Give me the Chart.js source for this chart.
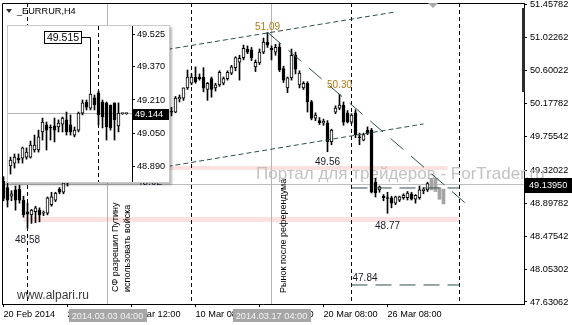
<!DOCTYPE html>
<html>
<head>
<meta charset="utf-8">
<script src="https://cdn.jsdelivr.net/npm/chart.js@4/dist/chart.umd.min.js"></script>
<style>
  html, body { margin: 0; padding: 0; background: #fff; }
  #wrap { position: relative; width: 572px; height: 325px; overflow: hidden; }
  #main { position: absolute; left: 0; top: 0; width: 572px; height: 325px; }
  #insetBox { position: absolute; left: 7px; top: 25px; width: 163px; height: 158px; box-sizing: border-box;
    border: 1px solid #c8c8c8; background: #fff; box-shadow: 2px 2px 2px rgba(0,0,0,0.28); }
  #inset { position: absolute; left: 0; top: 0; width: 161px; height: 156px; }
</style>
</head>
<body>
<div id="wrap">
  <canvas id="main" width="572" height="325"></canvas>
  <div id="insetBox"><canvas id="inset" width="161" height="156"></canvas></div>
</div>
<script>
const FONT = '"Liberation Sans", Arial, sans-serif';
Chart.defaults.font.family = FONT;

// ---- main H4 chart data ----
const priceTicks = [51.45782, 51.02262, 50.60022, 50.17782, 49.75542, 49.32022, 48.89782, 48.47542, 48.05302, 47.63062];
const tickBars = [0, 16, 32, 48, 64, 80, 96];
const tickLabels = ['20 Feb 2014', '26 Feb 08:00', '4 Mar 12:00', '10 Mar 08:00', '14 Mar 08:00', '20 Mar 08:00', '26 Mar 08:00'];

const opens = [
  49.18, 49.10, 48.99, 49.07, 49.08, 48.94, 48.79, 48.75, 48.79, 48.81, 48.77, 48.77, 48.88, 48.94, 49.08, 49.04,
  49.16, 49.22, 49.28, 49.25, 49.35, 49.41, 49.38, 49.49, 49.46, 49.55, 49.58, 50.30, 50.18, 50.05, 50.10, 50.16,
  50.00, 49.94, 50.02, 50.08, 49.98, 49.92, 49.96, 50.03, 50.00, 50.05, 50.08, 50.07, 50.24, 50.25, 50.38, 50.44,
  50.52, 50.52, 50.52, 50.36, 50.50, 50.38, 50.42, 50.44, 50.50, 50.57, 50.64, 50.71, 50.77, 50.88, 50.87, 50.65,
  50.70, 50.84, 50.97, 50.89, 50.84, 50.90, 50.63, 50.38, 50.51, 50.80, 50.42, 50.38, 50.44, 50.20, 49.99, 49.96,
  49.93, 49.93, 49.69, 50.07, 50.12, 50.16, 50.06, 49.94, 50.06, 49.75, 49.71, 49.84, 49.84, 49.17, 49.07, 48.99,
  48.97, 48.97, 48.90, 48.94, 48.97, 48.97, 49.02, 48.95, 48.97, 49.06, 49.07
];
const highs = [
  49.24, 49.17, 49.06, 49.12, 49.13, 48.99, 48.90, 48.82, 48.86, 48.84, 48.80, 48.98, 49.04, 49.04, 49.10, 49.20,
  49.26, 49.31, 49.35, 49.38, 49.44, 49.47, 49.52, 49.56, 49.58, 49.62, 50.45, 50.52, 50.26, 50.14, 50.22, 50.20,
  50.08, 50.06, 50.12, 50.14, 50.04, 50.00, 50.06, 50.10, 50.08, 50.12, 50.13, 50.27, 50.29, 50.38, 50.61, 50.56,
  50.65, 50.56, 50.64, 50.45, 50.52, 50.44, 50.60, 50.52, 50.60, 50.67, 50.78, 50.80, 50.93, 50.92, 50.90, 50.74,
  50.88, 51.02, 51.09, 50.92, 50.94, 50.95, 50.66, 50.52, 50.88, 50.84, 50.60, 50.46, 50.46, 50.22, 50.06, 50.00,
  49.98, 49.96, 49.85, 50.15, 50.30, 50.20, 50.09, 50.05, 50.10, 49.80, 49.80, 49.88, 49.86, 49.22, 49.12, 49.01,
  49.04, 48.99, 48.99, 48.99, 49.02, 49.05, 49.04, 49.01, 49.12, 49.10, 49.17
];
const lows = [
  48.93, 48.85, 48.93, 48.81, 48.90, 48.72, 48.58, 48.64, 48.65, 48.66, 48.74, 48.75, 48.86, 48.92, 49.02, 49.02,
  49.12, 49.18, 49.22, 49.23, 49.30, 49.34, 49.36, 49.42, 49.44, 49.50, 49.56, 50.10, 49.98, 49.92, 50.02, 49.96,
  49.88, 49.90, 49.97, 49.95, 49.86, 49.84, 49.91, 49.97, 49.93, 50.00, 50.02, 50.06, 50.20, 50.22, 50.36, 50.42,
  50.44, 50.48, 50.33, 50.22, 50.26, 50.34, 50.40, 50.42, 50.48, 50.55, 50.60, 50.48, 50.74, 50.82, 50.73, 50.59,
  50.68, 50.82, 50.90, 50.74, 50.80, 50.59, 50.45, 50.32, 50.48, 50.56, 50.38, 50.36, 50.07, 49.97, 49.96, 49.91,
  49.90, 49.56, 49.65, 50.05, 50.10, 49.90, 49.93, 49.92, 49.74, 49.65, 49.70, 49.78, 49.03, 48.98, 49.04, 48.93,
  48.77, 48.84, 48.88, 48.92, 48.95, 48.94, 48.94, 48.90, 48.95, 49.02, 49.05
];
const closes = [
  48.96, 48.94, 49.02, 48.94, 48.94, 48.75, 48.76, 48.81, 48.84, 48.75, 48.78, 48.97, 48.98, 49.03, 49.04, 49.16,
  49.22, 49.28, 49.25, 49.35, 49.41, 49.38, 49.49, 49.46, 49.55, 49.58, 50.30, 50.18, 50.05, 50.10, 50.16, 50.00,
  49.94, 50.02, 50.08, 49.98, 49.92, 49.96, 50.03, 50.00, 50.05, 50.08, 50.07, 50.25, 50.26, 50.38, 50.52, 50.52,
  50.46, 50.50, 50.38, 50.44, 50.36, 50.42, 50.58, 50.50, 50.58, 50.65, 50.77, 50.76, 50.89, 50.84, 50.77, 50.71,
  50.84, 50.97, 50.93, 50.87, 50.90, 50.61, 50.48, 50.51, 50.80, 50.62, 50.57, 50.44, 50.20, 49.99, 50.03, 49.93,
  49.95, 49.69, 49.84, 50.12, 50.16, 49.94, 49.94, 50.03, 49.78, 49.74, 49.78, 49.80, 49.04, 49.03, 49.11, 48.97,
  48.96, 48.90, 48.98, 48.98, 49.00, 49.03, 48.95, 49.00, 49.07, 49.08, 49.15
];
// grey bars to the right of the last candle
const ghostBars = [107, 108, 109, 110];
const ghostOpen = [49.22, 49.22, 49.10, 49.08];
const ghostClose = [49.07, 49.05, 48.95, 48.89];

const lastPrice = 49.1395;
const separators = [6, 47, 87, 114];
const eventBars = [26, 67];
const eventStamps = ['2014.03.03 04:00', '2014.03.17 04:00'];
const eventNotes = [['СФ разрешил Путину', 'использовать войска'], ['Рынок после референдума']];

const bandFrom = [30, 5];
const bandTo = [111, 114];
const bandHigh = [49.377, 48.722];
const bandLow = [49.326, 48.658];

const upperChannel = [{x: 41, y: 50.875}, {x: 98, y: 51.356}];
const lowerChannel = [{x: 41, y: 49.372}, {x: 105, y: 49.917}];
const fallLine = [{x: 66.125, y: 51.09}, {x: 116.625, y: 48.85}];
const targetFrom = 87, targetTo = 114;
const targetLevels = [49.095, 47.849];

const markText = ['51.09', '50.30', '49.56', '48.77', '48.58', '47.84', '48.92'];
const markBar = [66, 84, 81, 96, 6, 87, 36.5];
const markPrice = [51.09, 50.30, 49.56, 48.77, 48.58, 47.84, 48.92];
const rightBlock = [51.406, 50.328];

// ---- inset chart data ----
const insetTicks = [49.525, 49.370, 49.210, 49.050, 48.890];
const insetOpen = [48.892, 48.906, 48.930, 48.930, 48.935, 48.935, 48.969, 48.969, 49.056, 49.090, 49.080, 49.085, 49.080, 49.094, 49.114,
  49.090, 49.041, 49.065, 49.147, 49.200, 49.171, 49.220, 49.244, 49.200, 49.196, 49.186, 49.196, 49.085, 49.144, 49.144];
const insetHigh = [48.935, 48.950, 48.950, 48.983, 48.979, 49.012, 49.041, 49.065, 49.123, 49.104, 49.090, 49.123, 49.114, 49.128, 49.152,
  49.138, 49.080, 49.152, 49.210, 49.210, 49.239, 49.234, 49.253, 49.210, 49.200, 49.186, 49.196, 49.196, 49.147, 49.147];
const insetLow = [48.853, 48.882, 48.906, 48.906, 48.925, 48.930, 48.959, 48.959, 49.017, 48.969, 49.017, 49.008, 49.056, 49.056, 49.041,
  49.041, 49.032, 49.056, 49.138, 49.162, 49.162, 49.162, 49.090, 49.075, 49.017, 49.065, 49.017, 49.056, 49.141, 49.141];
const insetClose = [48.921, 48.935, 48.921, 48.979, 48.959, 48.993, 48.993, 49.032, 49.104, 49.065, 49.075, 49.065, 49.099, 49.123, 49.056,
  49.056, 49.065, 49.147, 49.196, 49.176, 49.239, 49.186, 49.138, 49.128, 49.080, 49.075, 49.114, 49.147, 49.144, 49.144];
const insetLast = 49.144;
const insetCallout = '49.515';
const insetCalloutBar = 20;
const insetSeparator = 22;

function candleSets(o, h, l, c) {
  const idx = o.map((_, i) => i);
  return [
    {
      type: 'bar', data: idx.map(i => ({x: i, y: [l[i], h[i]]})),
      backgroundColor: '#000', borderWidth: 0, barThickness: 1, grouped: false, order: 3
    },
    {
      type: 'bar', data: idx.map(i => ({x: i, y: [o[i], c[i]]})),
      backgroundColor: idx.map(i => c[i] >= o[i] ? '#fff' : '#000'),
      borderColor: '#000', borderWidth: 1, borderSkipped: false, minBarLength: 1,
      barThickness: 3, grouped: false, order: 2
    }
  ];
}

function lineSet(points, dash) {
  return {
    type: 'line', data: points, borderColor: '#2f4f4f', borderWidth: 1, borderDash: dash,
    pointRadius: 0, fill: false, tension: 0, order: 0
  };
}

const snap = v => Math.floor(v) + 0.5;

const mainDecor = {
  id: 'mainDecor',
  beforeDatasetsDraw(chart) {
    const {ctx, chartArea: a, scales: {x, y}} = chart;
    ctx.save();
    ctx.beginPath();
    ctx.rect(a.left, a.top, a.right - a.left, a.bottom - a.top);
    ctx.clip();

    ctx.fillStyle = '#fde1e1';
    bandFrom.forEach((b, k) => {
      const x0 = x.getPixelForValue(b), x1 = x.getPixelForValue(bandTo[k]);
      const y0 = y.getPixelForValue(bandHigh[k]), y1 = y.getPixelForValue(bandLow[k]);
      ctx.fillRect(x0, y0, x1 - x0, y1 - y0);
    });

    ctx.lineWidth = 1;
    ctx.strokeStyle = '#bdbdbd';
    const ly = snap(y.getPixelForValue(lastPrice));
    ctx.beginPath(); ctx.moveTo(a.left, ly); ctx.lineTo(a.right, ly); ctx.stroke();

    ctx.strokeStyle = '#b4b4b4';
    eventBars.forEach(b => {
      const px = snap(x.getPixelForValue(b));
      ctx.beginPath(); ctx.moveTo(px, a.top); ctx.lineTo(px, a.bottom); ctx.stroke();
    });

    ctx.strokeStyle = '#000';
    ctx.setLineDash([4, 3]);
    separators.forEach(b => {
      const px = snap(x.getPixelForValue(b));
      ctx.beginPath(); ctx.moveTo(px, a.top); ctx.lineTo(px, a.bottom); ctx.stroke();
    });
    ctx.restore();

    // watermark runs over the price axis as well
    ctx.save();
    ctx.font = '17px ' + FONT;
    ctx.fillStyle = '#c2c2c2';
    ctx.textAlign = 'left';
    ctx.textBaseline = 'alphabetic';
    ctx.fillText('Портал для трейдеров - ForTrader.ru', 256, 179);
    ctx.restore();
  },
  afterDraw(chart) {
    const {ctx, chartArea: a, scales: {x, y}} = chart;
    ctx.save();
    ctx.strokeStyle = '#000';
    ctx.lineWidth = 1;
    ctx.beginPath();
    ctx.moveTo(a.left + 0.5, a.bottom); ctx.lineTo(a.left + 0.5, a.top + 0.5); ctx.lineTo(a.right, a.top + 0.5);
    ctx.stroke();

    // title
    ctx.fillStyle = '#333';
    ctx.beginPath(); ctx.moveTo(6, 9); ctx.lineTo(12, 9); ctx.lineTo(9, 13); ctx.closePath(); ctx.fill();
    ctx.fillStyle = '#000';
    ctx.font = '9.2px ' + FONT;
    ctx.textBaseline = 'alphabetic';
    ctx.textAlign = 'left';
    ctx.fillText('_EURRUR,H4', 17, 14);

    // price marks
    const markDy = [-5, -9, 10, 13, 12, -7, -19];
    ctx.font = '10px ' + FONT;
    ctx.textBaseline = 'middle';
    markText.forEach((t, k) => {
      ctx.fillStyle = k < 2 ? '#b07a14' : '#1a1a2a';
      ctx.textAlign = k === 5 ? 'left' : 'center';
      const px = x.getPixelForValue(markBar[k]) + (k === 5 ? 1 : 0);
      ctx.fillText(t, px, y.getPixelForValue(markPrice[k]) + markDy[k]);
    });

    // rotated notes
    const noteX = [[10.5, 22.5], [14.5]];
    const noteY = [292, 293];
    ctx.font = '9px ' + FONT;
    ctx.fillStyle = '#000';
    ctx.textAlign = 'left';
    ctx.textBaseline = 'alphabetic';
    eventNotes.forEach((lines, k) => {
      const px = x.getPixelForValue(eventBars[k]);
      lines.forEach((t, j) => {
        ctx.save();
        ctx.translate(px + noteX[k][j], noteY[k]);
        ctx.rotate(-Math.PI / 2);
        ctx.fillText(t, 0, 0);
        ctx.restore();
      });
    });

    ctx.font = '12px ' + FONT;
    ctx.fillStyle = '#383838';
    ctx.fillText('www.alpari.ru', 17, 299);

    // shift marker
    ctx.fillStyle = '#a8a8a8';
    ctx.beginPath(); ctx.moveTo(428, 3); ctx.lineTo(438, 3); ctx.lineTo(433, 8); ctx.closePath(); ctx.fill();

    // right side block and last price
    const b0 = y.getPixelForValue(rightBlock[0]), b1 = y.getPixelForValue(rightBlock[1]);
    ctx.fillStyle = '#2b2b2b';
    ctx.fillRect(522, b0, 3, b1 - b0);
    const lp = Math.round(y.getPixelForValue(lastPrice));
    ctx.fillStyle = '#000';
    ctx.fillRect(525, lp - 7, 47, 15);
    ctx.fillStyle = '#fff';
    ctx.font = '9.2px ' + FONT;
    ctx.textBaseline = 'middle';
    ctx.fillText(lastPrice.toFixed(5), 529, lp + 0.5);

    // time stamps of the event lines
    ctx.textAlign = 'center';
    eventBars.forEach((b, k) => {
      const px = x.getPixelForValue(b);
      ctx.fillStyle = '#a6a6a6';
      ctx.fillRect(Math.round(px - 39), 309, 78, 13);
      ctx.fillStyle = '#f4f4f4';
      ctx.fillText(eventStamps[k], px, 316);
    });
    ctx.restore();
  }
};

const mainSets = candleSets(opens, highs, lows, closes);
mainSets.push({
  type: 'bar', data: ghostBars.map((b, k) => ({x: b, y: [ghostOpen[k], ghostClose[k]]})),
  backgroundColor: '#a4a4a4', borderWidth: 0, barThickness: 3, grouped: false, order: 2
});
mainSets.push(lineSet(upperChannel, [5, 3]));
mainSets.push(lineSet(lowerChannel, [5, 3]));
mainSets.push(lineSet(fallLine, [17, 10]));
targetLevels.forEach(v => mainSets.push(lineSet([{x: targetFrom, y: v}, {x: targetTo, y: v}], [16, 8])));

new Chart(document.getElementById('main'), {
  type: 'bar',
  data: {datasets: mainSets},
  options: {
    responsive: false,
    devicePixelRatio: 1,
    animation: false,
    events: [],
    layout: {padding: {left: 2, top: 3, right: 0, bottom: 0}},
    plugins: {legend: {display: false}, tooltip: {enabled: false}},
    scales: {
      x: {
        type: 'linear', min: -0.375, max: 130.125, offset: false,
        afterBuildTicks: s => { s.ticks = tickBars.map(v => ({value: v})); },
        afterFit: s => { s.height = 21; s.paddingLeft = 0; s.paddingRight = 0; },
        ticks: {
          autoSkip: false, maxRotation: 0, align: 'start', padding: 2, color: '#000',
          font: {size: 9.2}, callback: (v, k) => tickLabels[k]
        },
        grid: {drawOnChartArea: false, tickLength: 3, color: '#000', offset: false},
        border: {display: true, color: '#000'}
      },
      y: {
        type: 'linear', position: 'right', min: 47.6049, max: 51.4707,
        afterBuildTicks: s => { s.ticks = priceTicks.map(v => ({value: v})); },
        afterFit: s => { s.width = 48; s.paddingTop = 0; s.paddingBottom = 0; },
        ticks: {padding: 3, color: '#000', font: {size: 9.2}, callback: v => v.toFixed(5)},
        grid: {drawOnChartArea: false, tickLength: 3, color: '#000'},
        border: {display: true, color: '#000'}
      }
    }
  },
  plugins: [mainDecor]
});

// ---- inset ----
const insetDecor = {
  id: 'insetDecor',
  beforeDatasetsDraw(chart) {
    const {ctx, chartArea: a, scales: {x, y}} = chart;
    ctx.save();
    ctx.lineWidth = 1;
    ctx.strokeStyle = '#b4b4b4';
    const ly = snap(y.getPixelForValue(insetLast));
    ctx.beginPath(); ctx.moveTo(a.left, ly); ctx.lineTo(a.right, ly); ctx.stroke();
    ctx.strokeStyle = '#000';
    ctx.setLineDash([4, 3]);
    const sx = snap(x.getPixelForValue(insetSeparator));
    ctx.beginPath(); ctx.moveTo(sx, a.top); ctx.lineTo(sx, a.bottom); ctx.stroke();
    ctx.restore();
  },
  afterDraw(chart) {
    const {ctx, chartArea: a, scales: {x, y}} = chart;
    ctx.save();
    const lp = Math.round(y.getPixelForValue(insetLast));
    ctx.fillStyle = '#000';
    ctx.fillRect(a.right, lp - 5, chart.width - a.right, 11);
    ctx.fillStyle = '#fff';
    ctx.font = '9.2px ' + FONT;
    ctx.textBaseline = 'middle';
    ctx.textAlign = 'left';
    ctx.fillText(insetLast.toFixed(3), a.right + 3, lp + 0.5);

    const cx = snap(x.getPixelForValue(insetCalloutBar));
    const hy = y.getPixelForValue(insetHigh[insetCalloutBar]);
    ctx.strokeStyle = '#000';
    ctx.lineWidth = 1;
    ctx.beginPath(); ctx.moveTo(cx, hy); ctx.lineTo(cx, 11.5); ctx.lineTo(cx - 9, 11.5); ctx.stroke();
    ctx.fillStyle = '#fff';
    ctx.fillRect(cx - 46, 5.5, 37, 12);
    ctx.strokeRect(cx - 46, 5.5, 37, 12);
    ctx.fillStyle = '#000';
    ctx.font = '10.5px ' + FONT;
    ctx.textAlign = 'center';
    ctx.fillText(insetCallout, cx - 27.5, 12);
    ctx.restore();
  }
};

new Chart(document.getElementById('inset'), {
  type: 'bar',
  data: {datasets: candleSets(insetOpen, insetHigh, insetLow, insetClose)},
  options: {
    responsive: false,
    devicePixelRatio: 1,
    animation: false,
    events: [],
    layout: {padding: 0},
    plugins: {legend: {display: false}, tooltip: {enabled: false}},
    scales: {
      x: {type: 'linear', display: false, min: -0.625, max: 30.375, offset: false},
      y: {
        type: 'linear', position: 'right', min: 48.8148, max: 49.5666,
        afterBuildTicks: s => { s.ticks = insetTicks.map(v => ({value: v})); },
        afterFit: s => { s.width = 37; s.paddingTop = 0; s.paddingBottom = 0; },
        ticks: {padding: 2, color: '#000', font: {size: 9.2}, callback: v => v.toFixed(3)},
        grid: {drawOnChartArea: false, tickLength: 3, color: '#000'},
        border: {display: true, color: '#000'}
      }
    }
  },
  plugins: [insetDecor]
});
</script>
</body>
</html>
